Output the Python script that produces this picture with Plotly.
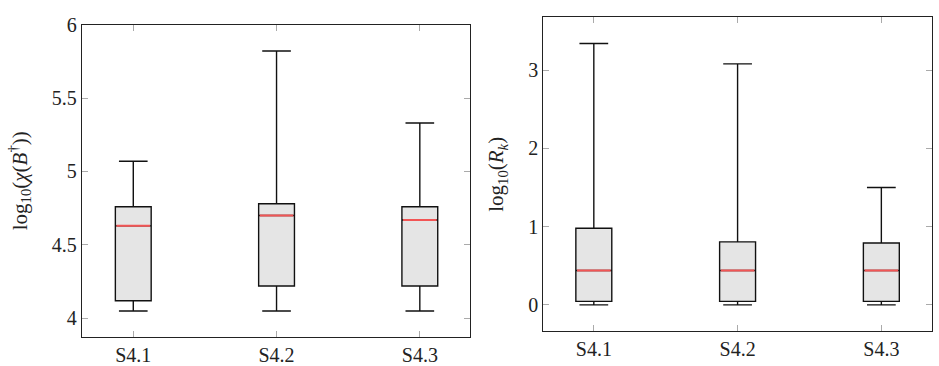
import plotly.graph_objects as go

categories = ["S4.1", "S4.2", "S4.3"]

# Left panel: log10(chi(B^dagger))
chi_lower = [4.05, 4.05, 4.05]
chi_q1 = [4.12, 4.22, 4.22]
chi_median = [4.63, 4.70, 4.67]
chi_q3 = [4.76, 4.78, 4.76]
chi_upper = [5.07, 5.82, 5.33]

# Right panel: log10(R_k)
rk_lower = [0.0, 0.0, 0.0]
rk_q1 = [0.045, 0.045, 0.045]
rk_median = [0.44, 0.44, 0.44]
rk_q3 = [0.98, 0.805, 0.79]
rk_upper = [3.34, 3.08, 1.50]

FONT = "Liberation Serif, Times New Roman, serif"
BOX_W = 0.25

fig = go.Figure()


def add_panel(xa, ya, lower, q1, med, q3, upper):
    fig.add_trace(go.Box(
        x=categories, q1=q1, median=med, q3=q3,
        lowerfence=lower, upperfence=upper,
        width=BOX_W, whiskerwidth=0.8,
        fillcolor="#e5e5e5",
        line=dict(color="#111111", width=1.4),
        boxpoints=False, showlegend=False, hoverinfo="skip",
        xaxis=xa, yaxis=ya,
    ))
    # red median line drawn as degenerate box at the median
    fig.add_trace(go.Box(
        x=categories, q1=med, median=med, q3=med,
        lowerfence=med, upperfence=med,
        width=BOX_W - 0.016, whiskerwidth=0,
        fillcolor="rgba(0,0,0,0)",
        line=dict(color="#f25555", width=2),
        boxpoints=False, showlegend=False, hoverinfo="skip",
        xaxis=xa, yaxis=ya,
    ))


add_panel("x", "y", chi_lower, chi_q1, chi_median, chi_q3, chi_upper)
add_panel("x2", "y2", rk_lower, rk_q1, rk_median, rk_q3, rk_upper)

axis_common = dict(
    showline=True, linecolor="#222", linewidth=1, mirror="ticks",
    ticks="inside", ticklen=6, tickcolor="#aaaaaa", tickwidth=1,
    showgrid=False, zeroline=False,
    tickfont=dict(family=FONT, size=20, color="#222"),
)

fig.update_layout(
    width=939, height=366,
    margin=dict(l=0, r=0, t=0, b=0),
    paper_bgcolor="white", plot_bgcolor="white",
    boxmode="overlay",
    font=dict(family=FONT, size=20, color="#222"),
    xaxis=dict(domain=[0.087, 0.5005], anchor="y", type="category",
               range=[-0.36, 2.35], **axis_common),
    yaxis=dict(domain=[0.082, 0.9617], anchor="x",
               range=[3.874, 6.0], tickvals=[4, 4.5, 5, 5.5, 6],
               ticktext=["4", "4.5", "5", "5.5", "6"],
               title=dict(text="log<sub>10</sub>(<i>χ</i>(<i>B</i><sup>†</sup>))",
                          font=dict(family=FONT, size=21), standoff=18),
               **axis_common),
    xaxis2=dict(domain=[0.5785, 0.9925], anchor="y2", type="category",
                range=[-0.352, 2.352], **axis_common),
    yaxis2=dict(domain=[0.0984, 0.9817], anchor="x2",
                range=[-0.335, 3.673], tickvals=[0, 1, 2, 3],
                title=dict(text="log<sub>10</sub>(<i>R<sub>k</sub></i>)",
                           font=dict(family=FONT, size=21), standoff=18),
                **axis_common),
)

fig.write_html("out.html")
